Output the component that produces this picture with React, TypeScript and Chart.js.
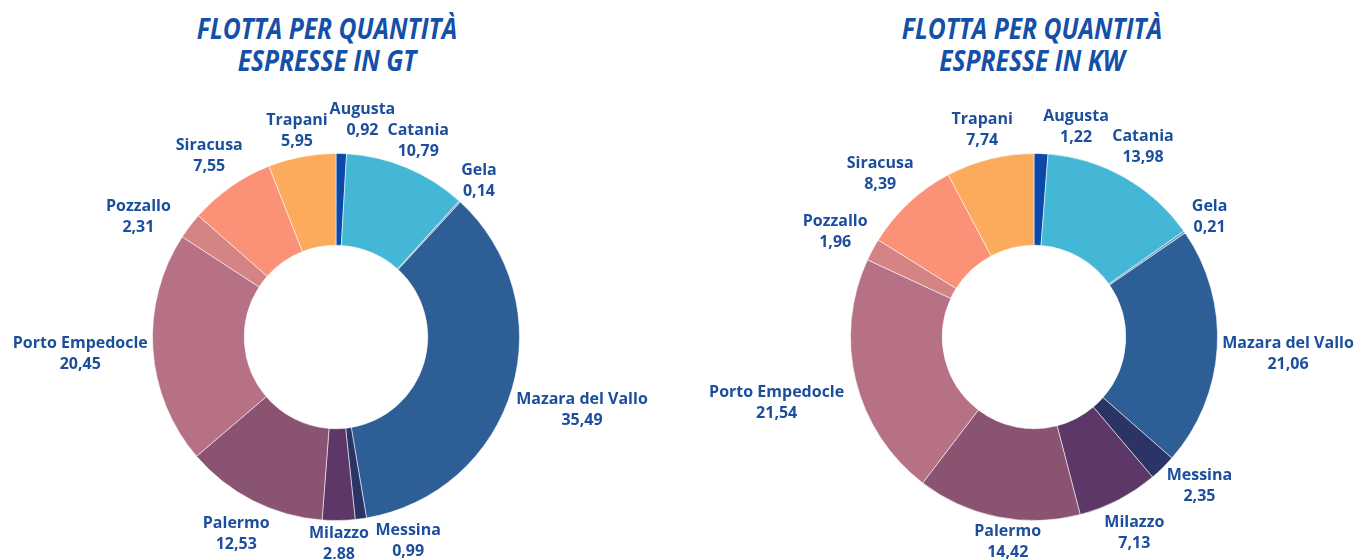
import React, { useEffect, useRef } from "react";
import { Chart, registerables } from "chart.js";

Chart.register(...registerables);

const PORTS = [
  "Augusta",
  "Catania",
  "Gela",
  "Mazara del Vallo",
  "Messina",
  "Milazzo",
  "Palermo",
  "Porto Empedocle",
  "Pozzallo",
  "Siracusa",
  "Trapani",
];

const GT_VALUES = [0.92, 10.79, 0.14, 35.49, 0.99, 2.88, 12.53, 20.45, 2.31, 7.55, 5.95];
const KW_VALUES = [1.22, 13.98, 0.21, 21.06, 2.35, 7.13, 14.42, 21.54, 1.96, 8.39, 7.74];

const GT_TITLE = ["FLOTTA PER QUANTITÀ", "ESPRESSE IN GT"];
const KW_TITLE = ["FLOTTA PER QUANTITÀ", "ESPRESSE IN KW"];

const SLICE_COLORS = [
  "#0b48a8",
  "#44b7d6",
  "#6a9dc6",
  "#2e5e96",
  "#2c3466",
  "#5c3767",
  "#8a5372",
  "#b67284",
  "#d48484",
  "#fb9176",
  "#fcaa5c",
];

const LABEL_COLOR = "#1c4e9e";
const TITLE_COLOR = "#1450a8";
const FONT = "'Open Sans', 'DejaVu Sans', sans-serif";

const fmt = (v: number) => v.toFixed(2).replace(".", ",");

// label placement tweaks: index -> [angle shift in degrees, radial shift in px]
const GT_NUDGE: Record<number, [number, number]> = {
  0: [5.3, 6],
  1: [0, -6],
  2: [0, -3],
  4: [-11.7, -2],
  5: [0, -2],
  6: [0, -1],
  8: [-6, 5],
  9: [0, -3],
  10: [0, -4],
};
const KW_NUDGE: Record<number, [number, number]> = {
  0: [9, 2],
  4: [-4, -5],
  5: [0, -2],
  6: [-4, -8],
  7: [0, 7],
};

const outsideLabels = {
  id: "outsideLabels",
  afterDatasetsDraw(chart: any, _args: any, opts: any) {
    const ctx = chart.ctx;
    const meta = chart.getDatasetMeta(0);
    const data = chart.data.datasets[0].data as number[];
    const labels = chart.data.labels as string[];
    const nudge = (opts && opts.nudge) || {};
    const yShift = (opts && opts.yShift) || 0;
    ctx.save();
    ctx.font = `bold 16px ${FONT}`;
    ctx.fillStyle = LABEL_COLOR;
    ctx.textAlign = "center";
    ctx.textBaseline = "middle";
    meta.data.forEach((arc: any, i: number) => {
      const p = arc.getProps(["x", "y", "startAngle", "endAngle", "outerRadius"], true);
      const [da, dr] = nudge[i] || [0, 0];
      const a = (p.startAngle + p.endAngle) / 2 + (da * Math.PI) / 180;
      const name = labels[i];
      const val = fmt(data[i]);
      const w = Math.max(ctx.measureText(name).width, ctx.measureText(val).width);
      const h = 42;
      const c = Math.cos(a);
      const s = Math.sin(a);
      const r = p.outerRadius + 4 + dr + (w / 2) * Math.abs(c) + (h / 2) * Math.abs(s);
      const cx = p.x + r * c;
      const cy = p.y + r * s + yShift;
      ctx.fillText(name, cx, cy - 10.5);
      ctx.fillText(val, cx, cy + 10.5);
    });
    ctx.restore();
  },
};

type DonutProps = {
  values: number[];
  title: string[];
  nudge: Record<number, [number, number]>;
  yShift: number;
  left: number;
  width: number;
  padding: { top: number; bottom: number; left: number; right: number };
  titleCenter: number;
};

function Donut({ values, title, nudge, yShift, left, width, padding, titleCenter }: DonutProps) {
  const ref = useRef<HTMLCanvasElement | null>(null);
  useEffect(() => {
    if (!ref.current) return;
    const chart = new Chart(ref.current, {
      type: "doughnut",
      data: {
        labels: PORTS,
        datasets: [
          {
            data: values,
            backgroundColor: SLICE_COLORS,
            borderColor: "rgba(255,255,255,0.55)",
            borderWidth: 1,
          },
        ],
      },
      options: {
        responsive: false,
        animation: false,
        cutout: "50%",
        layout: { padding },
        plugins: {
          legend: { display: false },
          tooltip: { enabled: false },
          title: { display: false },
          outsideLabels: { nudge, yShift },
        } as any,
      },
      plugins: [outsideLabels],
    });
    return () => chart.destroy();
  }, []);
  return (
    <>
      <div
        style={{
          position: "absolute",
          left: titleCenter - 250,
          width: 500,
          top: 12,
          textAlign: "center",
          fontFamily: FONT,
          fontWeight: 700,
          fontStyle: "italic",
          fontSize: 28,
          lineHeight: "32px",
          color: TITLE_COLOR,
          transform: "scaleX(0.88)",
          transformOrigin: "50% 0",
        }}
      >
        {title.map((t, i) => (
          <div key={i}>{t}</div>
        ))}
      </div>
      <canvas
        ref={ref}
        width={width}
        height={559}
        style={{ position: "absolute", left, top: 0, width, height: 559 }}
      />
    </>
  );
}

export default function App() {
  return (
    <div
      style={{
        position: "fixed",
        left: 0,
        top: 0,
        width: 1357,
        height: 559,
        background: "#ffffff",
        overflow: "hidden",
      }}
    >
      <Donut
        values={GT_VALUES}
        title={GT_TITLE}
        nudge={GT_NUDGE}
        yShift={0}
        left={0}
        width={670}
        padding={{ top: 153, bottom: 38, left: 152, right: 150 }}
        titleCenter={327}
      />
      <Donut
        values={KW_VALUES}
        title={KW_TITLE}
        nudge={KW_NUDGE}
        yShift={2}
        left={690}
        width={667}
        padding={{ top: 153, bottom: 38, left: 160, right: 139 }}
        titleCenter={1032}
      />
    </div>
  );
}
